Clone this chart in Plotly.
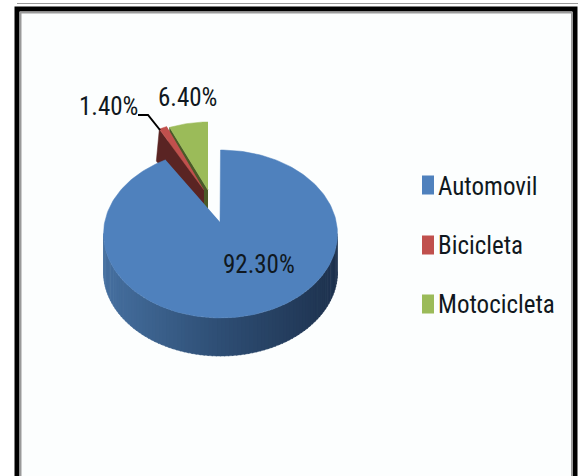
import numpy as np
import plotly.graph_objects as go

categories = ["Automovil", "Bicicleta", "Motocicleta"]
values = [92.3, 1.4, 6.4]
labels = ["92.30%", "1.40%", "6.40%"]
colors = ["#4f81bd", "#c0504d", "#9bbb59"]
side_colors = ["#24405f", "#5a2423", "#4a5a28"]

W, H = 579, 476
NARROW = "Roboto Condensed"
angles = np.cumsum([0] + values) / sum(values) * 360
geom = [
    dict(ax=220, ay=222, cx=220.5, cy=234, rx=117, ry=84),
    dict(ax=204, ay=190, cx=204, cy=190, rx=95, ry=69),
    dict(ax=208, ay=190, cx=208, cy=190, rx=98, ry=68),
]
DEPTH = 38

def arc(g, a0, a1, n=120):
    t = np.radians(np.linspace(a0, a1, n))
    return g["cx"] + g["rx"] * np.sin(t), g["cy"] - g["ry"] * np.cos(t)

def mix(c1, c2, f):
    return "rgb(%d,%d,%d)" % tuple(c1[i] + (c2[i] - c1[i]) * f for i in range(3))

fig = go.Figure()

def poly(x, y, color, name):
    fig.add_trace(go.Scatter(x=list(x), y=list(y), mode="lines", fill="toself", fillcolor=color,
                             line=dict(color=color, width=0.5), name=name, hoverinfo="name", showlegend=False))

for i in (2, 1):
    g = geom[i]
    x, y = arc(g, angles[i], angles[i + 1], 30)
    d = 32
    sx = [g["ax"], x[0], x[0] - 3, g["ax"]]
    sy = [g["ay"], y[0], y[0] + d, g["ay"] + d]
    poly(sx, sy, side_colors[i], categories[i])
    poly([g["ax"], *x], [g["ay"], *y], colors[i], categories[i])

g = geom[0]
left = (70, 112, 160)
mid = (46, 78, 116)
right = (30, 50, 78)
steps = np.linspace(90, 270, 91)
for a0, a1 in zip(steps[:-1], steps[1:]):
    x, y = arc(g, a0 - 0.3, a1 + 0.3, 4)
    f = (x.mean() - (g["cx"] - g["rx"])) / (2 * g["rx"])
    col = mix(left, mid, f * 2) if f < 0.5 else mix(mid, right, f * 2 - 1)
    poly(list(x) + list(x[::-1]), list(y) + list(y[::-1] + DEPTH), col, categories[0])
x, y = arc(g, angles[0], angles[1], 240)
poly([g["ax"], *x], [g["ay"], *y], colors[0], categories[0])

shapes = [
    dict(type="rect", xref="x", yref="y", x0=17, y0=9, x1=575, y1=H + 10, layer="below",
         fillcolor="#fcfefe", line=dict(color="#000000", width=5)),
    dict(type="line", xref="x", yref="y", x0=20, y0=12.5, x1=572, y1=12.5, layer="below", line=dict(color="#9a9a9a", width=2)),
    dict(type="line", xref="x", yref="y", x0=20.5, y0=12, x1=20.5, y1=H, layer="below", line=dict(color="#9a9a9a", width=2)),
    dict(type="line", xref="x", yref="y", x0=572, y0=12, x1=572, y1=H, layer="below", line=dict(color="#9a9a9a", width=2)),
    dict(type="line", xref="x", yref="y", x0=17, y0=3.5, x1=578, y1=3.5, layer="below", line=dict(color="#9a9a9a", width=1)),
]
for yc, col in zip([185, 245, 304], colors):
    shapes.append(dict(type="rect", xref="x", yref="y", x0=422, x1=434, y0=yc - 9.5, y1=yc + 9.5,
                       fillcolor=col, line=dict(width=0)))
fig.add_trace(go.Scatter(x=[138, 148, 160], y=[115, 115, 130], mode="lines", line=dict(color="#000000", width=2),
                         hoverinfo="skip", showlegend=False))

def text(x, y, s, size, anchor="left", fam=NARROW):
    return dict(x=x, y=y, xref="x", yref="y", text=s, showarrow=False, xanchor=anchor, yanchor="middle",
                font=dict(family=fam, size=size, color="#101820"))

annotations = [text(259, 264, labels[0], 25, "center"),
               text(108, 106, labels[1], 25, "center"),
               text(187, 97, labels[2], 25, "center")]
for yc, s in zip([186, 245, 304], categories):
    annotations.append(text(436, yc, s, 25))

fig.update_layout(width=W, height=H, margin=dict(l=0, r=0, t=0, b=0), paper_bgcolor="#ffffff", plot_bgcolor="rgba(0,0,0,0)",
                  shapes=shapes, annotations=annotations, showlegend=False,
                  xaxis=dict(range=[0, W], visible=False, fixedrange=True),
                  yaxis=dict(range=[H, 0], visible=False, fixedrange=True))
fig.write_html("out.html", config=dict(displayModeBar=False),
               post_script="document.body.style.margin='0';document.body.style.overflow='hidden';")
